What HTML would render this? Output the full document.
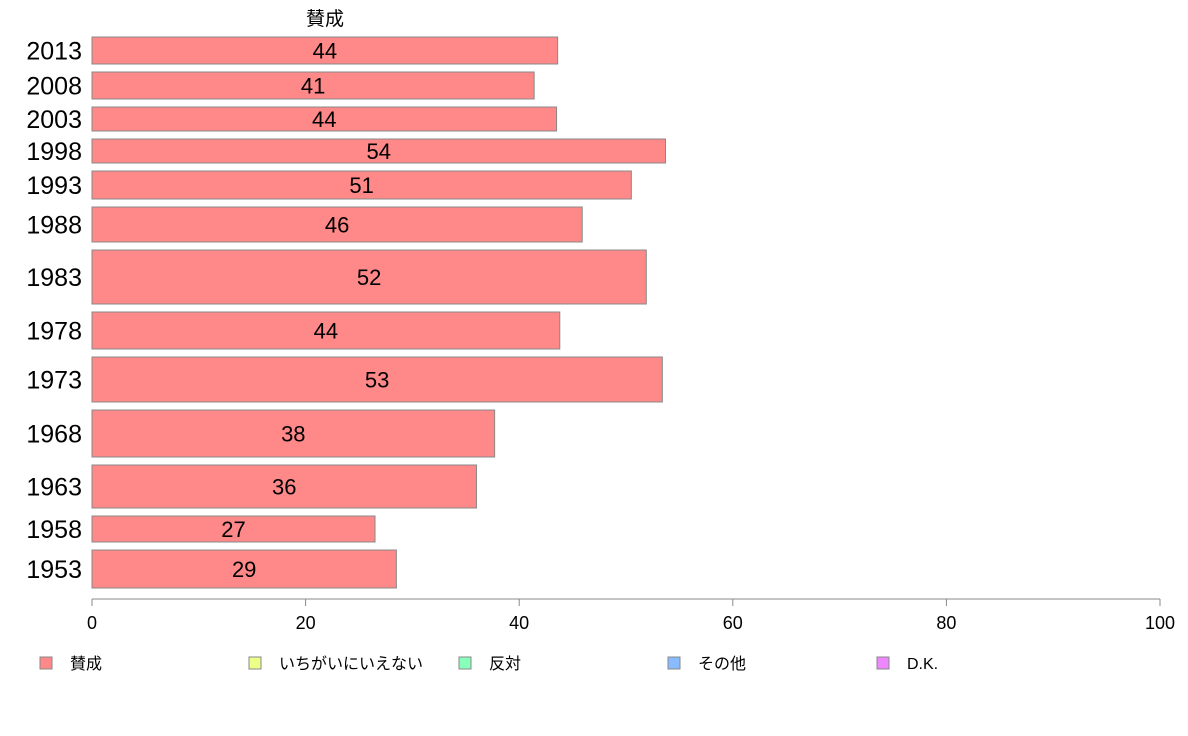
<!DOCTYPE html>
<html><head><meta charset="utf-8">
<style>
body{margin:0;background:#fff;}
svg{display:block;font-family:"Liberation Sans","Noto Sans CJK JP",sans-serif;}
</style></head>
<body>
<svg id="chart" width="1188" height="736">
<text x="325" y="25" text-anchor="middle" font-size="19">賛成</text>
<g id="bars"></g>
<g id="axis"></g>
<g id="legend"></g>
</svg>
<script>
const years = ["2013","2008","2003","1998","1993","1988","1983","1978","1973","1968","1963","1958","1953"];
const values = [43.6,41.4,43.5,53.7,50.5,45.9,51.9,43.8,53.4,37.7,36.0,26.5,28.5];
const weights = [27,27,24,24,28,35,54,37,45,47,43,26,38];
const ticks = [0,20,40,60,80,100];
const legendLabels = ["賛成","いちがいにいえない","反対","その他","D.K."];
const legendColors = ["#ff8888","#eeff88","#88ffbb","#88bbff","#ee88ff"];

const NS="http://www.w3.org/2000/svg";
const x0=92,x1=1160,yTop=37,yBottom=588,gap=8;
const xs=v=>x0+(v/100)*(x1-x0);
const totalW=weights.reduce((a,b)=>a+b,0);
const unit=(yBottom-yTop-gap*(weights.length-1))/totalW;
const bars=document.getElementById('bars');
let yy=yTop;
years.forEach((yr,i)=>{
  const h=weights[i]*unit;
  const r=document.createElementNS(NS,'rect');
  
  
  r.setAttribute('x',x0);r.setAttribute('y',yy);
  r.setAttribute('width',xs(values[i])-x0);r.setAttribute('height',h);
  r.setAttribute('fill','#ff8888');r.setAttribute('stroke','#888');r.setAttribute('stroke-width','1');
  bars.appendChild(r);
  const t=document.createElementNS(NS,'text');
  
  
  t.setAttribute('x',(x0+xs(values[i]))/2);t.setAttribute('y',yy+h/2+8);
  t.setAttribute('text-anchor','middle');t.setAttribute('font-size','22');
  t.textContent=Math.round(values[i]);
  bars.appendChild(t);
  const l=document.createElementNS(NS,'text');
  
  
  l.setAttribute('x',82);l.setAttribute('y',yy+h/2+9);
  l.setAttribute('text-anchor','end');l.setAttribute('font-size','25');
  l.textContent=yr;
  bars.appendChild(l);
  yy+=h+gap;
});
const axis=document.getElementById('axis');
const al=document.createElementNS(NS,'line');


al.setAttribute('x1',x0);al.setAttribute('x2',x1);al.setAttribute('y1',599);al.setAttribute('y2',599);
al.setAttribute('stroke','#888');
axis.appendChild(al);
ticks.forEach(v=>{
  const tl=document.createElementNS(NS,'line');
  
  
  tl.setAttribute('x1',xs(v));tl.setAttribute('x2',xs(v));tl.setAttribute('y1',599);tl.setAttribute('y2',606);
  tl.setAttribute('stroke','#888');
  axis.appendChild(tl);
  const tt=document.createElementNS(NS,'text');
  
  
  tt.setAttribute('x',xs(v));tt.setAttribute('y',629);
  tt.setAttribute('text-anchor','middle');tt.setAttribute('font-size','18');
  tt.textContent=v;
  axis.appendChild(tt);
});
const legend=document.getElementById('legend');
const lx=[40,249,459,668,877];
legendLabels.forEach((lab,i)=>{
  const r=document.createElementNS(NS,'rect');
  
  
  r.setAttribute('x',lx[i]);r.setAttribute('y',657);r.setAttribute('width',12);r.setAttribute('height',12);
  r.setAttribute('fill',legendColors[i]);r.setAttribute('stroke','#888');
  legend.appendChild(r);
  const t=document.createElementNS(NS,'text');
  
  
  t.setAttribute('x',lx[i]+30);t.setAttribute('y',669);t.setAttribute('font-size','16');
  t.textContent=lab;
  legend.appendChild(t);
});
</script>
</body></html>
